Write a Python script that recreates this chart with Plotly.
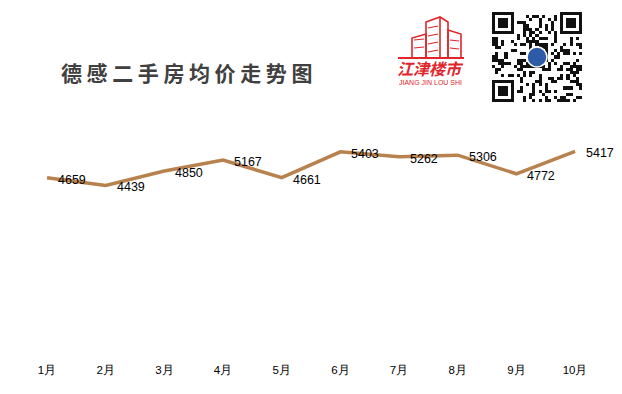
import plotly.graph_objects as go

W, H = 622, 394

months = ["1月", "2月", "3月", "4月", "5月", "6月", "7月", "8月", "9月", "10月"]
prices = [4659, 4439, 4850, 5167, 4661, 5403, 5262, 5306, 4772, 5417]

title_text = "德感二手房均价走势图"
logo_cn = "江津楼市"
logo_en = "JIANG JIN LOU SHI"

LINE_COLOR = "#B8824E"
RED = "#E0262B"


def px(x, y):
    return x / W, 1 - y / H


fig = go.Figure()

fig.add_trace(go.Scatter(
    x=months, y=prices, mode="lines",
    line=dict(color=LINE_COLOR, width=3.5),
    hoverinfo="skip", showlegend=False,
))

annotations = []
for m, p in zip(months, prices):
    annotations.append(dict(
        x=m, y=p, xref="x", yref="y", text=str(p), showarrow=False,
        xanchor="left", yanchor="middle", xshift=9, yshift=-2,
        font=dict(family="Liberation Sans, Arial", size=12.5, color="#000000"),
    ))

# Title
tx, ty = px(59, 72)
annotations.append(dict(
    x=tx, y=ty, xref="paper", yref="paper", xanchor="left", yanchor="middle",
    text="<b><span style='letter-spacing:4.6px'>" + title_text + "</span></b>",
    showarrow=False,
    font=dict(family="Noto Sans CJK SC", size=21, color="#404040"),
))

# Logo text
lx, ly = px(430, 68)
annotations.append(dict(
    x=lx, y=ly, xref="paper", yref="paper", xanchor="center", yanchor="middle",
    text="<b><i>" + logo_cn + "</i></b>", showarrow=False,
    font=dict(family="Noto Sans CJK SC", size=16, color=RED),
))
ex, ey = px(430, 82)
annotations.append(dict(
    x=ex, y=ey, xref="paper", yref="paper", xanchor="center", yanchor="middle",
    text=logo_en, showarrow=False,
    font=dict(family="Liberation Sans Narrow, Liberation Sans", size=7, color=RED),
))

shapes = []


def rect(x0, y0, x1, y1, line=None, fill=None, lw=1.5):
    a, b = px(x0, y0)
    c, d = px(x1, y1)
    shapes.append(dict(type="rect", xref="paper", yref="paper",
                       x0=a, y0=d, x1=c, y1=b,
                       line=dict(color=line or "rgba(0,0,0,0)", width=lw if line else 0),
                       fillcolor=fill or "rgba(0,0,0,0)"))


def path(points, color=RED, lw=1.6):
    d = ""
    for i, (x, y) in enumerate(points):
        a, b = px(x, y)
        d += ("M" if i == 0 else "L") + f"{a},{b} "
    shapes.append(dict(type="path", xref="paper", yref="paper", path=d,
                       line=dict(color=color, width=lw)))


# Building outline (logo)
path([(412, 58), (412, 38), (426, 34), (426, 58)])
path([(426, 58), (426, 22), (440, 17), (448, 22), (448, 58)])
path([(440, 17), (440, 58)])
path([(448, 58), (448, 30), (461, 34), (461, 58)])
for yy in (28, 36, 44, 52):
    path([(428, yy), (438, yy - 2)], lw=1.2)
for yy in (40, 48):
    path([(450, yy), (459, yy + 1)], lw=1.2)
    path([(414, yy), (424, yy - 1)], lw=1.2)
rect(398, 57, 464, 59, fill=RED, lw=0)

# QR code (decorative)
N = 29
qx0, qy0, qx1, qy1 = 492, 12, 582, 102
z = [[0] * N for _ in range(N)]
for i in range(N):
    for j in range(N):
        v = ((i * 31 + j * 17) ^ (i * j + 7)) % 5
        z[i][j] = 1 if v in (0, 2) else 0


def finder(r0, c0):
    for i in range(-1, 8):
        for j in range(-1, 8):
            r, c = r0 + i, c0 + j
            if 0 <= r < N and 0 <= c < N:
                if i in (-1, 7) or j in (-1, 7):
                    z[r][c] = 0
                elif i in (0, 6) or j in (0, 6):
                    z[r][c] = 1
                elif 2 <= i <= 4 and 2 <= j <= 4:
                    z[r][c] = 1
                else:
                    z[r][c] = 0


finder(0, 0)
finder(0, N - 7)
finder(N - 7, 0)

fig.add_trace(go.Heatmap(
    z=z, xaxis="x2", yaxis="y2", showscale=False, hoverinfo="skip",
    colorscale=[[0, "#ffffff"], [1, "#111111"]], zmin=0, zmax=1,
))
cx, cy = (qx0 + qx1) / 2, (qy0 + qy1) / 2
a, b = px(cx - 10, cy - 10)
c, d = px(cx + 10, cy + 10)
shapes.append(dict(type="circle", xref="paper", yref="paper", x0=a, y0=d, x1=c, y1=b,
                   fillcolor="#2E5BA8", line=dict(color="#ffffff", width=1.5)))

xa, _ = px(17.7, 0)
xb, _ = px(604.4, 0)
_, ya = px(0, 340)
_, yb = px(0, 131)
q0x, q0y = px(qx0, qy1)
q1x, q1y = px(qx1, qy0)

fig.update_layout(
    width=W, height=H,
    margin=dict(l=0, r=0, t=0, b=0),
    paper_bgcolor="#ffffff", plot_bgcolor="#ffffff",
    showlegend=False,
    xaxis=dict(domain=[xa, xb], type="category", range=[-0.5, 9.5],
               showgrid=False, zeroline=False, showline=False, ticks="",
               ticklabelstandoff=21,
               tickfont=dict(family="Liberation Sans, Arial", size=11.5, color="#000000")),
    yaxis=dict(domain=[ya, yb], range=[0, 6000], visible=False, showgrid=False),
    xaxis2=dict(domain=[q0x, q1x], anchor="y2", visible=False, range=[-0.5, N - 0.5]),
    yaxis2=dict(domain=[q0y, q1y], anchor="x2", visible=False, range=[N - 0.5, -0.5]),
    annotations=annotations,
    shapes=shapes,
)

fig.write_html("out.html")
